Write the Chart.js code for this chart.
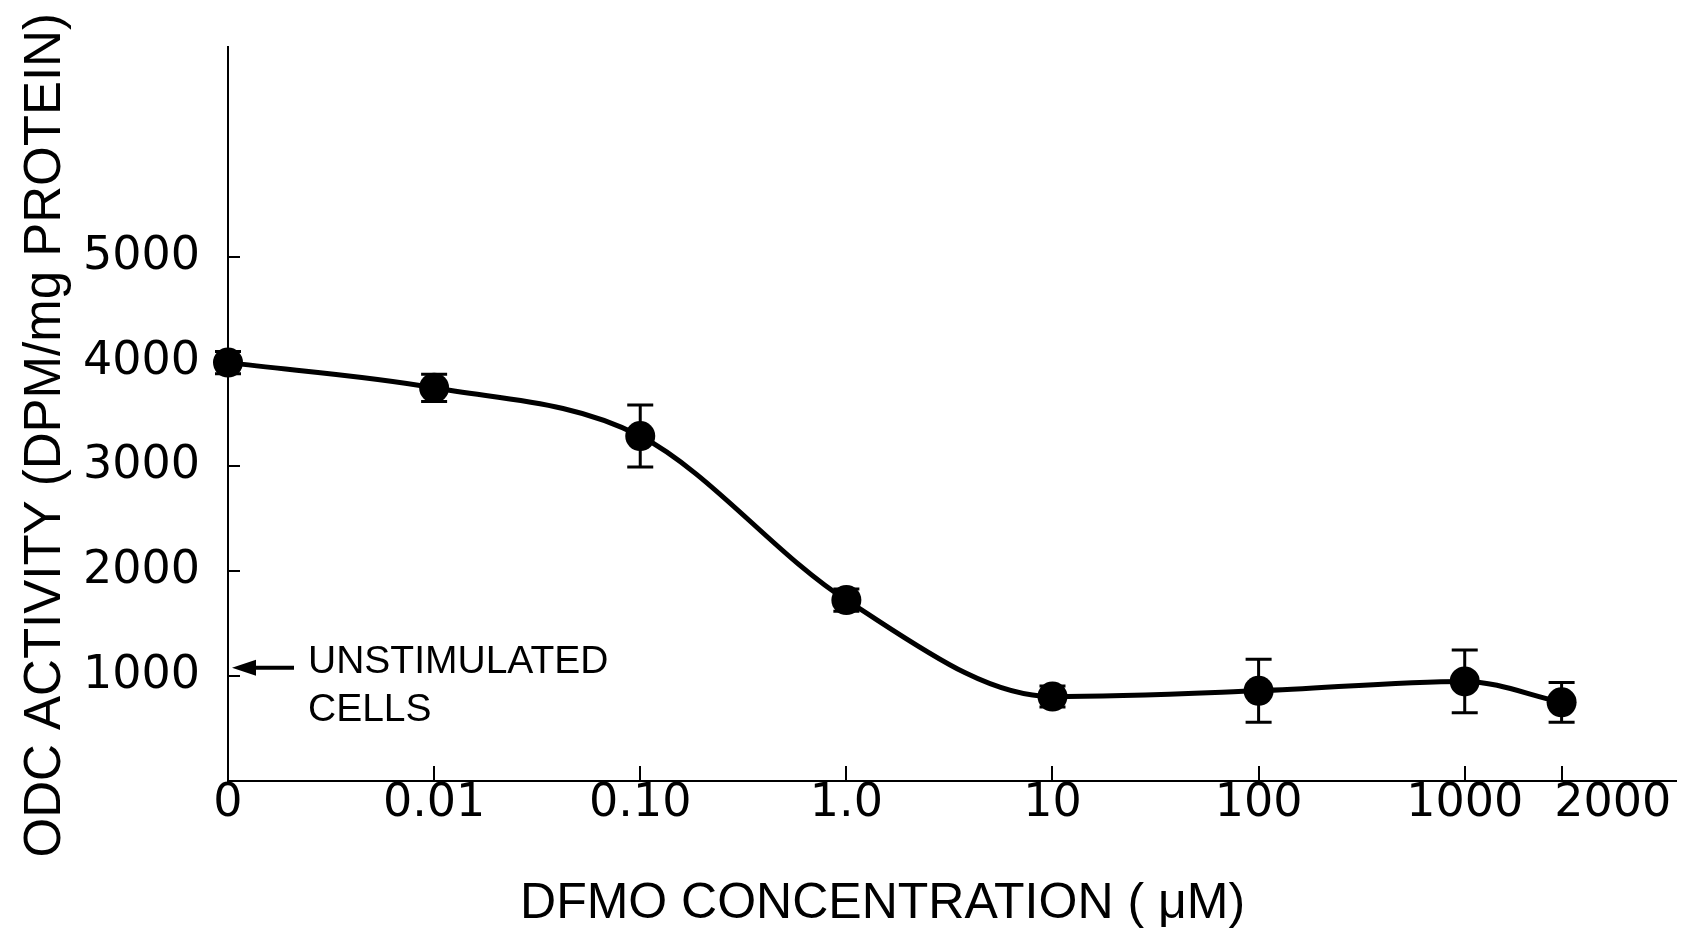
<!DOCTYPE html>
<html>
<head>
<meta charset="utf-8">
<title>ODC activity vs DFMO concentration</title>
<script src="https://cdn.jsdelivr.net/npm/chart.js@4.4.1/dist/chart.umd.min.js"></script>
<style>
  html, body { margin: 0; padding: 0; background: #fff; }
  canvas { display: block; }
</style>
</head>
<body>
<canvas id="odcChart" width="1691" height="929"></canvas>
<script>
// DFMO concentration (uM), axis is one step per decade, 2000 sits half a step past 1000
var concLabels = ['0', '0.01', '0.10', '1.0', '10', '100', '1000', '2000'];
var concPositions = [0, 1, 2, 3, 4, 5, 6, 6.47];
// ODC activity (DPM/mg protein) and +/- error
var odcActivity = [3990, 3750, 3290, 1725, 805, 860, 950, 750];
var odcError = [105, 130, 295, 105, 100, 300, 300, 190];
var yTickValues = [1000, 2000, 3000, 4000, 5000];
// arrow on the y axis
var unstimulatedLevel = 1080;
var unstimulatedText = ['UNSTIMULATED', 'CELLS'];

var NBSP = '\u00a0';

var errorBarsPlugin = {
    id: 'errorBars',
    beforeDatasetsDraw: function (chart) {
        var ctx = chart.ctx, xs = chart.scales.x, ys = chart.scales.y;
        ctx.save();
        ctx.strokeStyle = '#000';
        ctx.lineWidth = 3;
        for (var i = 0; i < odcActivity.length; i++) {
            var px = xs.getPixelForValue(concPositions[i]);
            var top = ys.getPixelForValue(odcActivity[i] + odcError[i]);
            var bottom = ys.getPixelForValue(odcActivity[i] - odcError[i]);
            ctx.beginPath();
            ctx.moveTo(px, top); ctx.lineTo(px, bottom);
            ctx.moveTo(px - 13, top); ctx.lineTo(px + 13, top);
            ctx.moveTo(px - 13, bottom); ctx.lineTo(px + 13, bottom);
            ctx.stroke();
        }
        ctx.restore();
    }
};

var unstimulatedPlugin = {
    id: 'unstimulated',
    afterDraw: function (chart) {
        var ctx = chart.ctx;
        var tipX = chart.scales.x.getPixelForValue(0) + 4;
        var py = chart.scales.y.getPixelForValue(unstimulatedLevel);
        ctx.save();
        ctx.fillStyle = '#000';
        ctx.strokeStyle = '#000';
        ctx.lineWidth = 4;
        ctx.beginPath();
        ctx.moveTo(tipX + 18, py); ctx.lineTo(tipX + 62, py);
        ctx.stroke();
        ctx.beginPath();
        ctx.moveTo(tipX, py); ctx.lineTo(tipX + 24, py - 8); ctx.lineTo(tipX + 24, py + 8);
        ctx.closePath();
        ctx.fill();
        ctx.font = '39px "Liberation Sans", Arial, sans-serif';
        ctx.textBaseline = 'alphabetic';
        ctx.fillText(unstimulatedText[0], tipX + 76, py + 5);
        ctx.fillText(unstimulatedText[1], tipX + 76, py + 53);
        ctx.restore();
    }
};

var points = concPositions.map(function (p, i) { return { x: p, y: odcActivity[i] }; });

var ctx = document.getElementById('odcChart').getContext('2d');
var odcChart = new Chart(ctx, {
    type: 'line',
    data: {
        datasets: [{
            data: points,
            borderColor: '#000',
            borderWidth: 5,
            cubicInterpolationMode: 'monotone',
            fill: false,
            clip: false,
            pointRadius: 15,
            pointBackgroundColor: '#000',
            pointBorderColor: '#000',
            pointBorderWidth: 0
        }]
    },
    options: {
        responsive: false,
        animation: false,
        layout: { padding: { top: 47, left: 0, right: 0, bottom: 0 } },
        plugins: {
            legend: { display: false },
            tooltip: { enabled: false }
        },
        scales: {
            x: {
                type: 'linear',
                min: 0,
                max: 7.025,
                afterBuildTicks: function (scale) {
                    scale.ticks = concPositions.map(function (v) { return { value: v }; });
                },
                afterFit: function (scale) {
                    scale.height = 148;
                    scale.paddingLeft = 0;
                    scale.paddingRight = 0;
                },
                ticks: {
                    autoSkip: false,
                    maxRotation: 0,
                    padding: 10,
                    color: '#000',
                    font: { family: '"DejaVu Sans", sans-serif', size: 46 },
                    callback: function (value, index) {
                        // 2000 is set to the right of its tick so it clears 1000
                        if (index === concLabels.length - 1) return NBSP.repeat(7) + concLabels[index];
                        return concLabels[index];
                    }
                },
                grid: { drawOnChartArea: false, tickLength: -15, color: '#000', lineWidth: 2 },
                border: { color: '#000', width: 2 },
                title: {
                    display: true,
                    // trailing spaces pull the title a bit left of the plot centre, as in the figure
                    text: 'DFMO CONCENTRATION ( \u03bcM)' + NBSP.repeat(10),
                    color: '#000',
                    font: { family: '"Liberation Sans", Arial, sans-serif', size: 50, lineHeight: 1 },
                    padding: { top: 0, bottom: 0 }
                }
            },
            y: {
                min: 0,
                max: 7000,
                afterBuildTicks: function (scale) {
                    scale.ticks = yTickValues.map(function (v) { return { value: v }; });
                },
                afterFit: function (scale) {
                    scale.width = 228;
                    scale.paddingTop = 0;
                    scale.paddingBottom = 0;
                },
                ticks: {
                    padding: 40,
                    color: '#000',
                    font: { family: '"DejaVu Sans", sans-serif', size: 46 },
                    callback: function (value) { return String(value); }
                },
                grid: { drawOnChartArea: false, tickLength: -12, color: '#000', lineWidth: 2 },
                border: { color: '#000', width: 2 },
                title: {
                    display: true,
                    // trailing spaces nudge the rotated title down a little
                    text: 'ODC ACTIVITY (DPM/mg PROTEIN)' + NBSP.repeat(3),
                    color: '#000',
                    font: { family: '"Liberation Sans", Arial, sans-serif', size: 51, lineHeight: 1 },
                    padding: { top: 20, bottom: 0 }
                }
            }
        }
    },
    plugins: [errorBarsPlugin, unstimulatedPlugin]
});
</script>
</body>
</html>
